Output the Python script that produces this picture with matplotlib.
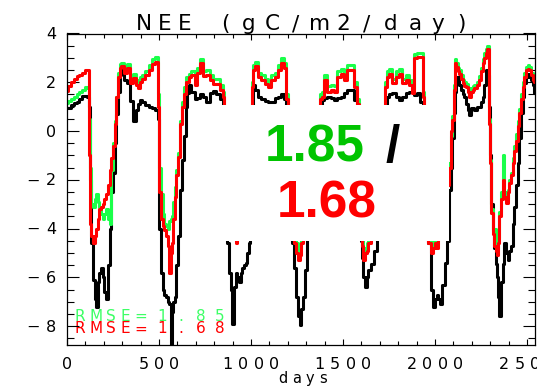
import matplotlib
matplotlib.use("Agg")
import matplotlib.pyplot as plt
import numpy as np
from matplotlib.patches import Rectangle
from matplotlib.ticker import MultipleLocator

plt.rcParams["font.family"] = ["DejaVu Sans"]

# ── daily NEE (gC/m2/day), sampled along the record ──
DAYS = np.array([
    0, 15, 30, 45, 60, 75, 90, 105, 115,
    122, 127, 136, 145, 154, 163, 172, 181, 190, 199, 208, 217, 226, 236, 245, 254, 263, 272, 281,
    290, 300, 317, 335, 353, 368, 380, 390, 399, 417, 435, 453, 471, 489,
    498, 507, 516, 525, 534, 543, 552, 561, 566, 572, 580, 589, 598, 607, 619, 630, 640, 650,
    657, 667, 685, 703, 712, 730, 748, 766, 785, 803, 821, 840, 850,
    858, 866, 875, 884, 893, 902, 912, 921, 930, 939, 948, 957, 966, 975, 984, 993, 1000,
    1006, 1011, 1029, 1047, 1065, 1083, 1101, 1119, 1138, 1156, 1174, 1188,
    1195, 1205, 1215, 1228, 1240, 1252, 1260, 1267, 1275, 1288, 1297, 1310, 1325, 1340, 1355, 1368,
    1379, 1388, 1406, 1424, 1442, 1460, 1478, 1496, 1514, 1533, 1551, 1569,
    1580, 1590, 1600, 1608, 1614, 1623, 1632, 1641, 1659, 1678, 1695, 1710, 1722,
    1732, 1741, 1759, 1777, 1795, 1813, 1831, 1849, 1868, 1882, 1891, 1909, 1928, 1937,
    1945, 1955, 1969, 1982, 1995, 2004, 2013, 2022, 2031, 2045, 2060, 2073, 2081, 2090, 2099, 2108, 2114,
    2118, 2127, 2136, 2145, 2154, 2163, 2172, 2181, 2190, 2199, 2208, 2217, 2226, 2235, 2245, 2254, 2263, 2272, 2281, 2288,
    2294, 2299, 2308, 2317, 2326, 2332, 2339, 2344, 2353, 2362, 2372, 2381, 2390, 2399, 2408, 2417, 2426, 2435, 2444,
    2453, 2462, 2471, 2480, 2489, 2498, 2507, 2516, 2525, 2535, 2543,
])

# observed flux (black)
NEE_OBS = np.array([
    0.95, 0.95, 1.05, 1.15, 1.2, 1.3, 1.45, 1.45, 1.4,
    1.0, -2.0, -4.6, -6.1, -6.9, -7.2, -6.2, -5.8, -5.6, -6.0, -6.6, -6.9, -5.5, -4.0, -2.5, -1.7, -0.5, 0.7, 1.6,
    2.3, 2.5, 2.1, 1.96, 1.23, 0.4, 0.86, 1.1, 1.27, 1.2, 1.07, 1.0, 0.93, 0.86,
    0.5, -4.0, -5.8, -6.5, -6.7, -6.8, -7.0, -7.1, -9.2, -7.4, -7.0, -6.8, -5.5, -4.3, -2.4, -1.2, -0.2, 1.0,
    1.55, 1.9, 1.6, 1.3, 1.35, 1.5, 1.4, 1.2, 1.55, 1.65, 1.5, 1.3, 1.0,
    -1.0, -3.5, -4.6, -5.8, -6.5, -7.9, -6.4, -5.8, -6.0, -6.2, -5.8, -5.6, -5.5, -5.4, -5.0, -4.6, -2.0,
    1.0, 1.9, 1.7, 1.4, 1.3, 1.25, 1.2, 1.2, 1.35, 1.4, 1.5, 1.3,
    0.5, -2.0, -3.8, -4.6, -5.6, -6.8, -7.6, -7.95, -7.3, -6.8, -5.7, -4.3, -3.5, -2.3, -1.0, 0.3,
    0.9, 1.27, 1.35, 1.41, 1.35, 1.27, 1.35, 1.41, 1.55, 1.68, 1.68, 1.27,
    0.3, -3.0, -4.5, -5.2, -6.0, -6.4, -6.0, -5.7, -5.45, -4.9, -3.5, -2.0, -0.3,
    0.8, 1.41, 1.5, 1.55, 1.4, 1.27, 1.4, 1.55, 1.6, 1.6, 1.48, 1.55, 1.2, 1.0,
    -1.0, -3.0, -4.6, -6.5, -7.2, -6.9, -6.7, -6.9, -7.1, -6.3, -5.4, -4.5, -2.4, -1.5, -0.3, 0.74, 1.6,
    2.23, 2.23, 1.9, 1.68, 1.5, 1.41, 1.1, 0.86, 0.66, 0.93, 0.93, 0.86, 0.86, 1.0, 1.0, 1.2, 1.41, 1.9, 2.5, 2.3,
    1.0, -1.0, -3.0, -4.05, -4.8, -5.45, -6.0, -6.8, -7.6, -6.2, -5.45, -4.6, -5.0, -5.3, -4.9, -4.7, -3.8, -3.1, -2.2,
    -1.3, -0.3, 0.74, 1.4, 1.96, 2.2, 2.36, 2.2, 2.09, 1.9, 1.55,
])

# model run 1 (green), RMSE 1.85
NEE_RUN1 = np.array([
    1.15, 1.25, 1.3, 1.4, 1.5, 1.6, 1.7, 1.8, 1.75,
    0.5, -1.5, -3.0, -3.1, -2.8, -2.6, -2.9, -3.1, -3.4, -3.6, -3.4, -3.2, -3.6, -3.8, -1.6, -0.5, 0.4, 1.4, 2.4,
    2.75, 2.8, 2.6, 2.75, 2.15, 2.35, 2.1, 1.95, 2.2, 2.3, 2.45, 2.7, 2.95, 3.05,
    1.5, -1.5, -2.6, -3.4, -3.8, -3.9, -4.0, -3.7, -3.6, -3.5, -2.9, -2.3, -1.6, -0.9, 0.4, 1.2, 1.8, 2.2,
    2.2, 2.35, 2.45, 2.1, 2.6, 2.95, 2.45, 2.5, 2.3, 2.15, 2.15, 1.9, 1.6,
    0.5, -1.5, -3.0, -3.3, -3.5, -3.8, -3.9, -4.3, -3.9, -3.7, -3.3, -3.0, -2.6, -2.0, -1.4, -0.6, 0.5,
    2.0, 2.7, 2.85, 2.4, 2.3, 2.15, 1.95, 2.3, 2.4, 2.7, 3.0, 2.8,
    1.5, -1.0, -2.8, -3.8, -4.2, -4.6, -5.0, -4.8, -4.3, -3.6, -3.0, -2.5, -1.8, -1.0, 0.0, 1.0,
    1.5, 1.6, 2.3, 1.85, 1.9, 1.85, 2.45, 2.55, 2.3, 2.7, 2.7, 2.0,
    1.3, -2.0, -3.8, -4.4, -5.1, -4.8, -4.6, -4.4, -3.9, -3.2, -2.0, -0.6, 0.8,
    2.0, 2.45, 2.55, 2.15, 2.45, 2.55, 2.15, 2.3, 2.1, 1.75, 3.15, 3.2, 3.2, 1.6,
    0.0, -2.5, -4.3, -4.7, -4.5, -4.3, -4.5, -4.2, -3.8, -3.2, -2.6, -2.0, -1.3, -0.2, 0.6, 1.9, 2.95,
    2.8, 2.6, 2.5, 2.3, 2.1, 2.0, 1.95, 1.75, 1.55, 1.75, 1.85, 1.9, 1.9, 2.0, 2.25, 2.6, 2.95, 3.2, 3.35, 3.5,
    0.5, -1.2, -3.2, -4.0, -4.0, -4.5, -4.8, -4.4, -3.3, -2.5, -1.0, -2.5, -2.8, -2.4, -2.0, -1.7, -1.1, -0.6, -0.1,
    0.4, 0.9, 1.5, 2.0, 2.4, 2.64, 2.7, 2.64, 2.4, 2.3, 2.2,
])

# model run 2 (red), RMSE 1.68
NEE_RUN2 = np.array([
    1.65, 1.85, 2.0, 2.15, 2.25, 2.3, 2.4, 2.5, 2.5,
    -1.0, -3.8, -4.3, -4.6, -4.3, -4.0, -3.6, -3.2, -3.1, -3.0, -2.8, -2.6, -2.2, -1.6, -1.1, -0.6, 0.3, 1.4, 2.2,
    2.6, 2.65, 2.4, 2.58, 1.96, 2.16, 1.9, 1.75, 2.0, 2.15, 2.3, 2.5, 2.75, 2.85,
    1.0, -2.5, -3.6, -3.9, -4.05, -4.3, -4.7, -5.8, -5.0, -4.6, -3.6, -2.7, -1.8, -1.05, 0.3, 1.0, 1.5, 2.0,
    2.0, 2.2, 2.3, 1.9, 2.4, 2.8, 2.25, 2.3, 2.1, 1.95, 1.95, 1.7, 1.4,
    0.3, -2.0, -3.3, -3.6, -3.9, -4.2, -4.3, -4.6, -4.1, -3.9, -3.5, -3.2, -2.8, -2.2, -1.5, -0.7, 0.3,
    1.8, 2.5, 2.65, 2.2, 2.1, 1.95, 1.8, 2.1, 2.2, 2.5, 2.8, 2.6,
    1.3, -1.3, -3.0, -4.1, -4.6, -5.0, -5.3, -5.1, -4.6, -3.9, -3.3, -2.7, -2.0, -1.2, -0.2, 0.8,
    1.3, 1.41, 2.09, 1.61, 1.68, 1.61, 2.23, 2.36, 2.09, 2.5, 2.5, 1.82,
    1.1, -2.3, -4.1, -4.7, -5.3, -5.0, -4.9, -4.6, -4.1, -3.4, -2.2, -0.8, 0.6,
    1.8, 2.23, 2.36, 1.96, 2.23, 2.36, 1.96, 2.09, 1.89, 1.55, 2.98, 3.05, 3.05, 1.41,
    -0.2, -2.8, -4.6, -5.0, -4.8, -4.6, -4.8, -4.4, -4.0, -3.4, -2.8, -2.2, -1.5, 0.0, 0.45, 1.7, 2.78,
    2.64, 2.45, 2.36, 2.15, 1.96, 1.85, 1.82, 1.6, 1.41, 1.6, 1.68, 1.75, 1.75, 1.9, 2.09, 2.45, 2.78, 3.0, 3.19, 3.35,
    0.3, -1.3, -3.36, -4.2, -4.7, -4.9, -5.1, -4.6, -3.5, -2.8, -2.0, -2.7, -2.95, -2.5, -2.14, -1.8, -1.3, -0.8, -0.4,
    0.2, 0.74, 1.3, 1.82, 2.2, 2.5, 2.55, 2.5, 2.3, 2.09, 2.0,
])

RMSE_RUN1 = 1.85
RMSE_RUN2 = 1.68

XTICKS = [0, 500, 1000, 1500, 2000, 2500]
YTICKS = [-8, -6, -4, -2, 0, 2, 4]
XLIM = (0, 2543)
YLIM = (-8.77, 4.0)

W, H = 537, 386
GREEN_LINE = "#1aff4a"
GREEN_TEXT = "#00c400"
RED = "#ff0000"


def px(x, y):
    """pixel position (from top-left) -> figure fraction"""
    return x / W, 1 - y / H


def spaced(ax, centers, baseline, s, **kw):
    # one glyph per centre, IDL vector-font style spacing
    for cx, ch in zip(centers, s):
        ax.text(*px(cx, baseline), ch, transform=ax.figure.transFigure,
                ha="center", va="baseline", clip_on=False, **kw)


fig = plt.figure(figsize=(W / 100, H / 100), dpi=100)
ax = fig.add_axes([67 / W, 1 - 345 / H, 468 / W, (345 - 33.5) / H])

ax.plot(DAYS, NEE_OBS, color="black", lw=2.2, drawstyle="steps-mid", zorder=2)
ax.plot(DAYS, NEE_RUN1, color=GREEN_LINE, lw=2.2, drawstyle="steps-mid", zorder=2)
ax.plot(DAYS, NEE_RUN2, color=RED, lw=2.2, drawstyle="steps-mid", zorder=2)

ax.set_xlim(*XLIM)
ax.set_ylim(*YLIM)
ax.set_xticks(XTICKS)
ax.set_yticks(YTICKS)
ax.xaxis.set_minor_locator(MultipleLocator(100))
ax.yaxis.set_minor_locator(MultipleLocator(0.5))
ax.tick_params(which="both", direction="in", top=True, right=True,
               labelbottom=False, labelleft=False, width=0.8, color="black")
ax.tick_params(axis="x", which="major", length=4.5)
ax.tick_params(axis="x", which="minor", length=2.8)
ax.tick_params(axis="y", which="major", length=8.4)
ax.tick_params(axis="y", which="minor", length=4.8)
for sp in ax.spines.values():
    sp.set_linewidth(0.9)

# tick labels, spaced like the IDL font
for t in XTICKS:
    s = str(t)
    n = len(s)
    for i, ch in enumerate(s):
        ax.annotate(ch, xy=(t, 0), xycoords=ax.get_xaxis_transform(),
                    xytext=((i - (n - 1) / 2) * 15.5, -24), textcoords="offset pixels",
                    ha="center", va="baseline", fontsize=11.5, annotation_clip=False)
for v in YTICKS:
    s = str(v).replace("-", "\u2212")
    offs = [-16] if len(s) == 1 else [-34, -16]
    for ch, dx in zip(s, offs):
        ax.annotate(ch, xy=(0, v), xycoords=ax.get_yaxis_transform(),
                    xytext=(dx, -5.5), textcoords="offset pixels",
                    ha="center", va="baseline", fontsize=11.5, annotation_clip=False)

spaced(ax, [143.5, 164.5, 184.5, 205, 225, 248.5, 272, 296, 320, 343.5, 367, 391, 415, 438, 461],
       30, "NEE (gC/m2/day)", fontsize=15.5)
spaced(ax, [283, 296.5, 310, 323.5], 383, "days", fontsize=10.5)

rmse_x = [80, 96, 111, 125, 140.5, 162, 181, 200.5, 219.5]
spaced(ax, rmse_x, 320.7, f"RMSE={RMSE_RUN1:.2f}", fontsize=11, color="#3dff66", zorder=1)
spaced(ax, rmse_x, 333.3, f"RMSE={RMSE_RUN2:.2f}", fontsize=11, color=RED, zorder=1)

# score panel pasted over the middle of the series
ax.add_patch(Rectangle((675, -4.5), 2076 - 675, 1.07 + 4.5, facecolor="white",
                       edgecolor="none", zorder=4))
big = dict(fontsize=37, fontweight="bold", family=["Liberation Sans", "DejaVu Sans"],
           transform=fig.transFigure, ha="left", va="baseline", zorder=5)
ax.text(*px(265, 162), f"{RMSE_RUN1:.2f}", color=GREEN_TEXT, **big)
ax.text(*px(386, 162), "/", color="black", **big)
ax.text(*px(277, 218), f"{RMSE_RUN2:.2f}", color=RED, **big)

fig.savefig("out.png", dpi=100)
